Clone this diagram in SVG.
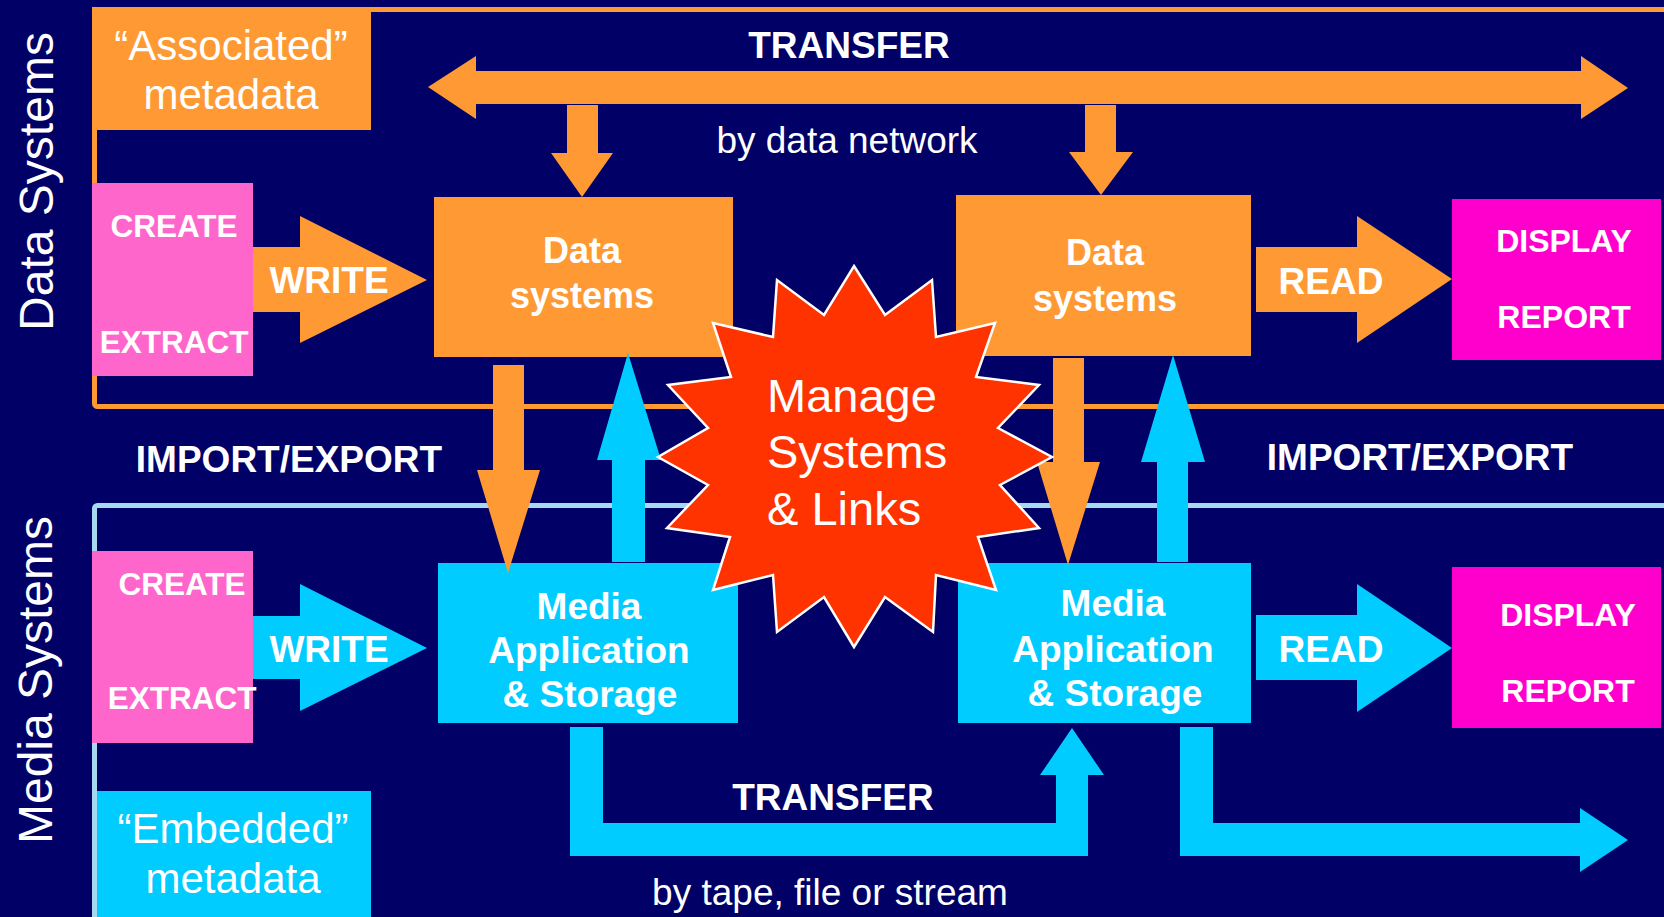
<svg xmlns="http://www.w3.org/2000/svg" width="1664" height="917" viewBox="0 0 1664 917">
<style>
text{font-family:"Liberation Sans",Arial,sans-serif;fill:#fff;text-anchor:middle}
.b{font-weight:bold;font-size:37px}
.n{font-size:37px}
.meta{font-size:42px}
.side{font-size:48px}
.box{font-weight:bold;font-size:36px}
.small{font-weight:bold;font-size:31.5px}
.disp{font-weight:bold;font-size:32px}
.or{fill:#FF9933}
.cy{fill:#00CCFF}
.pk{fill:#FF66CC}
.mg{fill:#FF00CC}
</style>
<rect x="0" y="0" width="1664" height="917" fill="#000066"/>
<g id="frames">
<rect x="94.5" y="9.5" width="1620" height="397" rx="3" fill="none" stroke="#FF9933" stroke-width="5"/>
<rect x="94.5" y="505.5" width="1620" height="500" rx="3" fill="none" stroke="#A6D9EE" stroke-width="5"/>
</g>
<g id="labels-side">
<text class="side" transform="translate(53,181.5) rotate(-90)">Data Systems</text>
<text class="side" transform="translate(52,680) rotate(-90)">Media Systems</text>
</g>
<g id="associated">
<rect class="or" x="92" y="7" width="279" height="123"/>
<text class="meta" x="231" y="60">“Associated”</text>
<text class="meta" x="231" y="109">metadata</text>
</g>
<g id="embedded">
<rect class="cy" x="97" y="791" width="274" height="126"/>
<text class="meta" x="233" y="843">“Embedded”</text>
<text class="meta" x="233" y="893">metadata</text>
</g>
<g id="create-data">
<rect class="pk" x="92" y="183" width="161" height="193"/>
<text class="small" x="174" y="237">CREATE</text>
<text class="small" x="174" y="353">EXTRACT</text>
</g>
<g id="create-media">
<rect class="pk" x="92" y="551" width="161" height="192"/>
<text class="small" x="182" y="595">CREATE</text>
<text class="small" x="182" y="709">EXTRACT</text>
</g>
<g id="data-systems-1">
<rect class="or" x="434" y="197" width="299" height="160"/>
<text class="box" x="582" y="263">Data</text>
<text class="box" x="582" y="308">systems</text>
</g>
<g id="data-systems-2">
<rect class="or" x="956" y="195" width="295" height="161"/>
<text class="box" x="1105" y="265">Data</text>
<text class="box" x="1105" y="311">systems</text>
</g>
<g id="media-1">
<rect class="cy" x="438" y="563" width="300" height="160"/>
<text class="b" x="589" y="619">Media</text>
<text class="b" x="589" y="663">Application</text>
<text class="b" x="590" y="707">&amp; Storage</text>
</g>
<g id="media-2">
<rect class="cy" x="958" y="563" width="293" height="160"/>
<text class="b" x="1113" y="616">Media</text>
<text class="b" x="1113" y="662">Application</text>
<text class="b" x="1115" y="706">&amp; Storage</text>
</g>
<g id="display-data">
<rect class="mg" x="1452" y="199" width="209" height="161"/>
<text class="disp" x="1564" y="252">DISPLAY</text>
<text class="disp" x="1564" y="328">REPORT</text>
</g>
<g id="display-media">
<rect class="mg" x="1452" y="567" width="209" height="161"/>
<text class="disp" x="1568" y="626">DISPLAY</text>
<text class="disp" x="1568" y="702">REPORT</text>
</g>
<g id="connectors">
<polygon class="or" points="428,87 476,56 476,71 1581,71 1581,56 1628,88 1581,119 1581,104 476,104 476,119"/>
<polygon class="or" points="567,105 598,105 598,153 613,153 582,197 551,153 567,153"/>
<polygon class="or" points="1085,105 1116,105 1116,152 1133,152 1101,195 1069,152 1085,152"/>
<polygon class="or" points="253,247 300,247 300,216 427,280 300,343 300,312 253,312"/>
<polygon class="or" points="1256,247 1357,247 1357,216 1452,279 1357,343 1357,312 1256,312"/>
<polygon class="or" points="493,365 524,365 524,470 540,470 508,573 477,470 493,470"/>
<polygon class="or" points="1053,358 1084,358 1084,462 1100,462 1068,565 1037,462 1053,462"/>
<polygon class="cy" points="612,562 645,562 645,460 661,460 628,353 597,460 612,460"/>
<polygon class="cy" points="1157,562 1188,562 1188,462 1205,462 1173,355 1141,462 1157,462"/>
<polygon class="cy" points="253,616 300,616 300,584 427,648 300,711 300,679 253,679"/>
<polygon class="cy" points="1256,615 1357,615 1357,584 1452,648 1357,712 1357,680 1256,680"/>
<polygon class="cy" points="570,727 603,727 603,823 1056,823 1056,775 1040,775 1072,728 1104,775 1088,775 1088,856 570,856"/>
<polygon class="cy" points="1180,727 1213,727 1213,823 1580,823 1580,808 1628,840 1580,872 1580,856 1180,856"/>
<text class="b" x="849" y="58">TRANSFER</text>
<text class="n" x="847" y="153">by data network</text>
<text class="b" x="329" y="293">WRITE</text>
<text class="b" x="1331" y="294">READ</text>
<text class="b" x="289" y="472">IMPORT/EXPORT</text>
<text class="b" x="1420" y="470">IMPORT/EXPORT</text>
<text class="b" x="329" y="662">WRITE</text>
<text class="b" x="1331" y="662">READ</text>
<text class="b" x="833" y="810">TRANSFER</text>
<text class="n" x="830" y="905">by tape, file or stream</text>
</g>
<g id="manage">
<polygon fill="#FF3300" stroke="#fff" stroke-width="2.5" stroke-linejoin="miter" points="854,266 885,315 932,280 936,337 995,323 976,377 1039,385 998,428 1052,457 1000,485 1039,528 978,537 996,590 936,575 933,632 885,597 854,647 824,597 777,632 773,575 713,590 730,537 667,528 708,485 658,457 708,428 668,385 731,377 713,323 773,337 777,280 824,315"/>
<text style="text-anchor:start;font-size:47px" x="767" y="412">Manage</text>
<text style="text-anchor:start;font-size:47px" x="767" y="468">Systems</text>
<text style="text-anchor:start;font-size:47px" x="767" y="525">&amp; Links</text>
</g>
</svg>
